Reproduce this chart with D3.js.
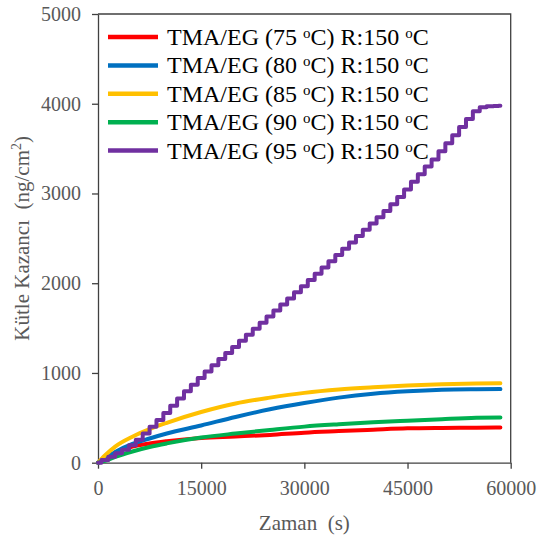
<!DOCTYPE html>
<html>
<head>
<meta charset="utf-8">
<script src="https://cdn.jsdelivr.net/npm/d3@7"></script>
<style>
  html, body { margin: 0; padding: 0; background: #fff; }
  svg { display: block; }
  text { font-family: "Times New Roman", "Liberation Serif", serif; }
</style>
</head>
<body>
<svg id="chart" width="538" height="535"></svg>
<script>
// Sampling times (s) of the stepped 95 °C run
const stepTimes = [0, 1000, 2000, 3000, 4000, 5000, 6000, 7000, 8000, 9000,
  10000, 11000, 12000, 13000, 14000, 15000, 16000, 17000, 18000, 19000,
  20000, 21000, 22000, 23000, 24000, 25000, 26000, 27000, 28000, 29000,
  30000, 31000, 32000, 33000, 34000, 35000, 36000, 37000, 38000, 39000,
  40000, 41000, 42000, 43000, 44000, 45000, 46000, 47000, 48000, 49000,
  50000, 51000, 52000, 53000, 54000, 55000, 56000, 57000, 58000, 58500];

// Sampling times (s) of the smoother runs
const smoothTimes = [0, 1000, 2500, 5000, 7500, 10000, 15000, 20000, 25000,
  30000, 35000, 40000, 45000, 50000, 55000, 58500];

// Mass gain (ng/cm²)
const gain75 = [0, 40, 110, 180, 215, 240, 276, 292, 310, 335, 352, 368, 383, 388, 390, 392];
const gain80 = [0, 50, 120, 210, 270, 325, 415, 510, 595, 665, 725, 768, 795, 812, 818, 820];
const gain85 = [0, 80, 180, 290, 375, 445, 565, 660, 725, 778, 815, 840, 860, 873, 882, 885];
const gain90 = [0, 20, 65, 125, 175, 215, 280, 325, 365, 402, 428, 450, 468, 485, 500, 505];
const gain95 = [0, 30, 65, 105, 145, 195, 255, 325, 400, 475,
  555, 635, 715, 795, 870, 945, 1015, 1085, 1155, 1222,
  1290, 1358, 1425, 1492, 1560, 1628, 1695, 1762, 1830, 1898,
  1965, 2035, 2105, 2175, 2245, 2315, 2385, 2455, 2525, 2595,
  2665, 2735, 2805, 2880, 2960, 3045, 3130, 3215, 3300, 3380,
  3470, 3560, 3650, 3740, 3830, 3915, 3960, 3972, 3976, 3977];

const depTemps = ["75", "80", "85", "90", "95"];
const reactorTemp = "150";
const seriesColors = ["#FF0000", "#0070C0", "#FFC000", "#00B050", "#7030A0"];

const xTicks = [0, 15000, 30000, 45000, 60000];
const yTicks = [0, 1000, 2000, 3000, 4000, 5000];

const series = [
  { temp: depTemps[0], t: smoothTimes, v: gain75, color: seriesColors[0], stepped: false },
  { temp: depTemps[1], t: smoothTimes, v: gain80, color: seriesColors[1], stepped: false },
  { temp: depTemps[2], t: smoothTimes, v: gain85, color: seriesColors[2], stepped: false },
  { temp: depTemps[3], t: smoothTimes, v: gain90, color: seriesColors[3], stepped: false },
  { temp: depTemps[4], t: stepTimes,   v: gain95, color: seriesColors[4], stepped: true }
];

const serif = '"Times New Roman", "Liberation Serif", serif';
const svg = d3.select("#chart");
const m = { left: 98, top: 14, right: 538 - 510.7, bottom: 535 - 462.7 };
const W = 538 - m.left - m.right;
const H = 535 - m.top - m.bottom;

const x = d3.scaleLinear().domain([0, 60000]).range([m.left, m.left + W]);
const y = d3.scaleLinear().domain([0, 5000]).range([m.top + H, m.top]);

const axisColor = "#404040";
const labelColor = "#595959";

// Plot frame (top and right edges)
svg.append("path")
  .attr("d", `M${x(0)},${y(5000)}H${x(60000)}V${y(0)}`)
  .attr("fill", "none")
  .attr("stroke", axisColor)
  .attr("stroke-width", 1.3);

// Axes
const gx = svg.append("g")
  .attr("transform", `translate(0,${y(0)})`)
  .call(d3.axisBottom(x).tickValues(xTicks).tickFormat(d3.format("d"))
    .tickSize(6).tickSizeOuter(0).tickPadding(12));
const gy = svg.append("g")
  .attr("transform", `translate(${x(0)},0)`)
  .call(d3.axisLeft(y).tickValues(yTicks).tickFormat(d3.format("d"))
    .tickSize(6).tickSizeOuter(0).tickPadding(11));

[gx, gy].forEach(g => {
  g.attr("font-family", serif);
  g.select(".domain").attr("stroke", axisColor).attr("stroke-width", 1.3);
  g.selectAll(".tick line").attr("stroke", axisColor).attr("stroke-width", 1.3);
  g.selectAll(".tick text")
    .attr("fill", labelColor)
    .style("font-family", serif)
    .style("font-size", "20px");
});

// Data lines
const smoothLine = d3.line().x(d => x(d[0])).y(d => y(d[1])).curve(d3.curveMonotoneX);
const stepLine = d3.line().x(d => x(d[0])).y(d => y(d[1])).curve(d3.curveStep);

series.forEach(s => {
  const pts = s.t.map((t, i) => [t, s.v[i]]);
  svg.append("path")
    .datum(pts)
    .attr("d", s.stepped ? stepLine : smoothLine)
    .attr("fill", "none")
    .attr("stroke", s.color)
    .attr("stroke-width", 4)
    .attr("stroke-linejoin", "round")
    .attr("stroke-linecap", "round");
});

// Axis titles
svg.append("text")
  .attr("x", (x(0) + x(60000)) / 2)
  .attr("y", 529.5)
  .attr("text-anchor", "middle")
  .attr("fill", labelColor)
  .style("font-family", serif)
  .style("font-size", "21px")
  .text("Zaman\u00a0 (s)");

const yTitle = svg.append("text")
  .attr("transform", `translate(29,${(y(0) + y(5000)) / 2}) rotate(-90)`)
  .attr("text-anchor", "middle")
  .attr("fill", labelColor)
  .style("font-family", serif)
  .style("font-size", "21px");
yTitle.append("tspan").text("Kütle Kazancı\u00a0 (ng/cm");
yTitle.append("tspan").attr("dy", -8).style("font-size", "14px").text("2");
yTitle.append("tspan").attr("dy", 8).text(")");

// Legend
const legend = svg.append("g");
series.forEach((s, i) => {
  const base = 45 + i * 28.4;
  legend.append("line")
    .attr("x1", 108).attr("x2", 158)
    .attr("y1", base - 8).attr("y2", base - 8)
    .attr("stroke", s.color)
    .attr("stroke-width", 4.5);
  const t = legend.append("text")
    .attr("x", 167).attr("y", base)
    .attr("fill", "#000")
    .style("font-family", serif)
    .style("font-size", "24px");
  t.append("tspan").text(`TMA/EG (${s.temp} `);
  t.append("tspan").attr("dy", -7).style("font-size", "15px").text("o");
  t.append("tspan").attr("dy", 7).text(`C) R:${reactorTemp} `);
  t.append("tspan").attr("dy", -7).style("font-size", "15px").text("o");
  t.append("tspan").attr("dy", 7).text("C");
});
</script>
</body>
</html>
